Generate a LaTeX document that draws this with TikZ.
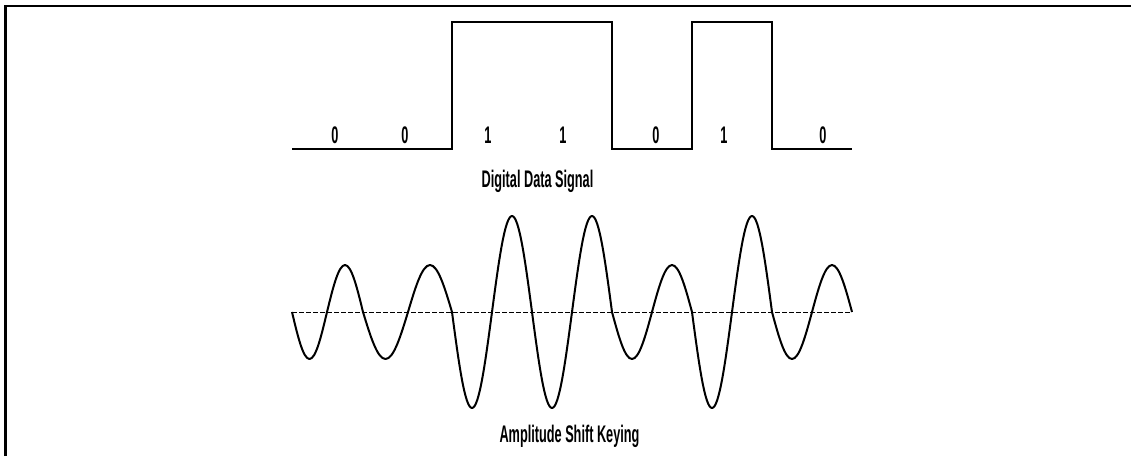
\documentclass[tikz,border=0pt]{standalone}
\usepackage{fontspec}
\newfontfamily\condfont[FakeStretch=0.53]{Liberation Sans Bold}
\begin{document}
\begin{tikzpicture}[x=1pt,y=-1pt,
  lbl/.style={font=\condfont\fontsize{24}{24}\selectfont, inner sep=0pt},
  sig/.style={line width=2pt, line join=miter},
  axisline/.style={line width=1pt, dash pattern=on 4.5pt off 2.5pt},
  frameline/.style={line width=2.5pt}]
\useasboundingbox (0,0) rectangle (1131,456);
% frame (top and left edges)
\draw[frameline] (5.5,456) -- (5.5,6) -- (1131,6);
% digital data signal
\draw[sig] (292,149) -- (452,149) -- (452,22) -- (612,22) -- (612,149)
  -- (692,149) -- (692,22) -- (772,22) -- (772,149) -- (852,149);
\node[lbl] (b1) at (335,135) {0};
\node[lbl] (b2) at (405,135) {0};
\node[lbl] (b3) at (488,135) {1};
\node[lbl] (b4) at (563,135) {1};
\node[lbl] (b5) at (656,135) {0};
\node[lbl] (b6) at (724,135) {1};
\node[lbl] (b7) at (823,135) {0};
\node[lbl] (dds) at (537.5,181) {Digital Data Signal};
% ASK signal
\draw[axisline] (292,312) -- (852,312);
\draw[sig, line join=round]
  (292,312) sin (309.5,359) cos (327,312) sin (345,265) cos (363,312)
  sin (385.5,359) cos (408,312) sin (430,265) cos (452,312)
  sin (472,408) cos (492,312) sin (512,216) cos (532,312)
  sin (552,408) cos (572,312) sin (592,216) cos (612,312)
  sin (632,359) cos (652,312) sin (672,265) cos (692,312)
  sin (712,408) cos (732,312) sin (752,216) cos (772,312)
  sin (792,359) cos (812,312) sin (832,265) cos (852,312);
\node[lbl] (ask) at (569.5,436) {Amplitude Shift Keying};
\end{tikzpicture}
\end{document}
